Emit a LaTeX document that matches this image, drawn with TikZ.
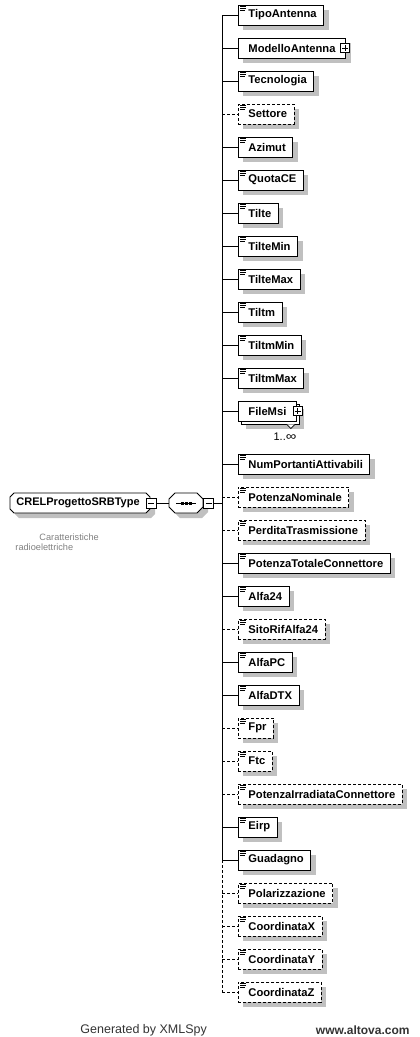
\documentclass[tikz,border=0pt]{standalone}
\usepackage{fontspec}
\setmainfont{Liberation Sans}
\usetikzlibrary{shadows,calc}
\definecolor{shgray}{HTML}{C0C0C0}
\definecolor{cmtgray}{HTML}{808080}
\definecolor{footgray}{HTML}{333333}
\newcommand\octopath[5]{({#1+#5},#2) -- ({#3-#5},#2) -- (#3,{#2+#5}) -- (#3,{#4-#5}) -- ({#3-#5},#4) -- ({#1+#5},#4) -- (#1,{#4-#5}) -- (#1,{#2+#5}) -- cycle}
\begin{document}
\begin{tikzpicture}[x=1pt,y=-1pt,line width=0.9pt,
  boxm/.style={draw=black, fill=white, anchor=west, inner sep=0pt, minimum height=20pt,
     font=\bfseries\fontsize{11.2}{13}\selectfont,
     general shadow={fill=shgray, shadow xshift=5pt, shadow yshift=-5pt}},
  boxo/.style={boxm, dash pattern=on 3pt off 2pt},
  boxn/.style={draw=black, fill=white, anchor=west, inner sep=0pt, minimum height=20pt,
     font=\bfseries\fontsize{11.2}{13}\selectfont},
  linem/.style={draw=black},
  lineo/.style={draw=black, dash pattern=on 3pt off 2pt},
  iconline/.style={draw=black, line width=0.8pt},
  plusicon/.style={draw=black, fill=white, minimum size=9pt, inner sep=0pt, line width=0.8pt,
     path picture={\draw[line width=0.8pt] ([xshift=1.5pt]path picture bounding box.west) -- ([xshift=-1.5pt]path picture bounding box.east);
                   \draw[line width=0.8pt] ([yshift=-1.5pt]path picture bounding box.north) -- ([yshift=1.5pt]path picture bounding box.south);}},
  minusicon/.style={draw=black, fill=white, minimum size=10pt, inner sep=0pt, line width=0.8pt,
     path picture={\draw[line width=0.8pt] ([xshift=2pt]path picture bounding box.west) -- ([xshift=-2pt]path picture bounding box.east);}},
  cmt/.style={text=cmtgray, font=\fontsize{9.2}{11}\selectfont, inner sep=0pt, anchor=west},
  foot/.style={text=footgray, inner sep=0pt}
]
\useasboundingbox (0,0) rectangle (420,1037);

% root node (octagon)
\fill[shgray, shift={(5,5)}] \octopath{10}{493}{150}{513}{4};
\draw[fill=white] \octopath{10}{493}{150}{513}{4};
\node[inner sep=0pt, minimum width=140pt, minimum height=20pt, anchor=west] (root) at (10,503) {};
\node[inner sep=0pt, anchor=west, font=\bfseries\fontsize{11}{13}\selectfont] (rootlabel) at (16,503) {CRELProgettoSRBType};
\node[minusicon] (rootminus) at (root.east) {};
\node[cmt] (c1) at (39,537) {Caratteristiche};
\node[cmt] (c2) at (15,547) {radioelettriche};

% sequence compositor
\fill[shgray, shift={(5,5)}] \octopath{169}{493}{203}{513}{6};
\draw[fill=white] \octopath{169}{493}{203}{513}{6};
\node[inner sep=0pt, minimum width=34pt, minimum height=20pt] (seq) at (186,503) {};
\draw[line width=0.9pt] ($(seq.center)+(-10,0)$) -- ($(seq.center)+(10,0)$);
\foreach \dx in {-4,0,4} \fill ($(seq.center)+(\dx-1.5,-1.5)$) rectangle ++(3,3);
\node[minusicon, anchor=west] (seqminus) at (seq.east) {};
\coordinate (tseq) at (222,503);
\draw (rootminus.east) -- (seq.west);
\draw (seqminus.east) -- (tseq);

% trunk
\coordinate (t0) at (222,15);
\coordinate (t25) at (222,860);
\coordinate (t29) at (222,992);
\draw[linem] (t0) -- (t25);
\draw[lineo] (t25) -- (t29);

% regular elements
\foreach \i/\y/\nm/\s in {0/15/TipoAntenna/m, 2/81/Tecnologia/m, 3/114/Settore/o,
  4/147/Azimut/m, 5/180/QuotaCE/m, 6/213/Tilte/m, 7/246/TilteMin/m, 8/279/TilteMax/m,
  9/312/Tiltm/m, 10/345/TiltmMin/m, 11/378/TiltmMax/m,
  13/464/NumPortantiAttivabili/m, 14/497/PotenzaNominale/o, 15/530/PerditaTrasmissione/o,
  16/563/PotenzaTotaleConnettore/m, 17/596/Alfa24/m, 18/629/SitoRifAlfa24/o,
  19/662/AlfaPC/m, 20/695/AlfaDTX/m, 21/728/Fpr/o, 22/761/Ftc/o,
  23/794/PotenzaIrradiataConnettore/o, 24/827/Eirp/m, 25/860/Guadagno/m,
  26/893/Polarizzazione/o, 27/926/CoordinataX/o, 28/959/CoordinataY/o, 29/992/CoordinataZ/o} {
  \coordinate (t\i) at (222,\y);
  \node[box\s] (e\i) at (238,\y) {\kern10pt\nm\kern7pt};
  \draw[line\s] (t\i) -- (e\i.west);
  \draw[iconline] ($(e\i.north west)+(2,2)$) -- ++(6,0);
  \draw[iconline] ($(e\i.north west)+(2,3.8)$) -- ++(6,0);
  \draw[iconline] ($(e\i.north west)+(2,5.6)$) -- ++(4.5,0);
}

% ModelloAntenna (complex, no icon)
\coordinate (t1) at (222,48);
\node[boxm] (e1) at (238,48) {\kern10pt ModelloAntenna\kern10pt};
\draw[linem] (t1) -- (e1.west);
\node[plusicon] (p1) at ($(e1.east)+(-1,0)$) {};

% FileMsi (1..inf, stacked)
\coordinate (t12) at (222,411);
\node[boxm] (e12b) at (241,414) {\kern10pt\phantom{FileMsi}\kern10pt};
\node[boxn] (e12) at (238,411) {\kern10pt FileMsi\kern10pt};
\draw[linem] (t12) -- (e12.west);
\node[plusicon] (p12) at ($(e12.east)+(1,0)$) {};
\draw[fill=white, line width=0.8pt] ($(e12b.south east)+(-13,0)$) -- ++(4,4) -- ++(4,-4);
\node[inner sep=0pt, font=\fontsize{11}{13}\selectfont] (m12) at (285,437) {1..\scalebox{1.35}[1.1]{∞}};

% footer
\node[foot, anchor=west, font=\fontsize{12.5}{14}\selectfont] (gen) at (80,1030) {Generated by XMLSpy};
\node[foot, anchor=east, font=\bfseries\fontsize{12}{14}\selectfont] (alt) at (410,1030) {www.altova.com};
\end{tikzpicture}
\end{document}
